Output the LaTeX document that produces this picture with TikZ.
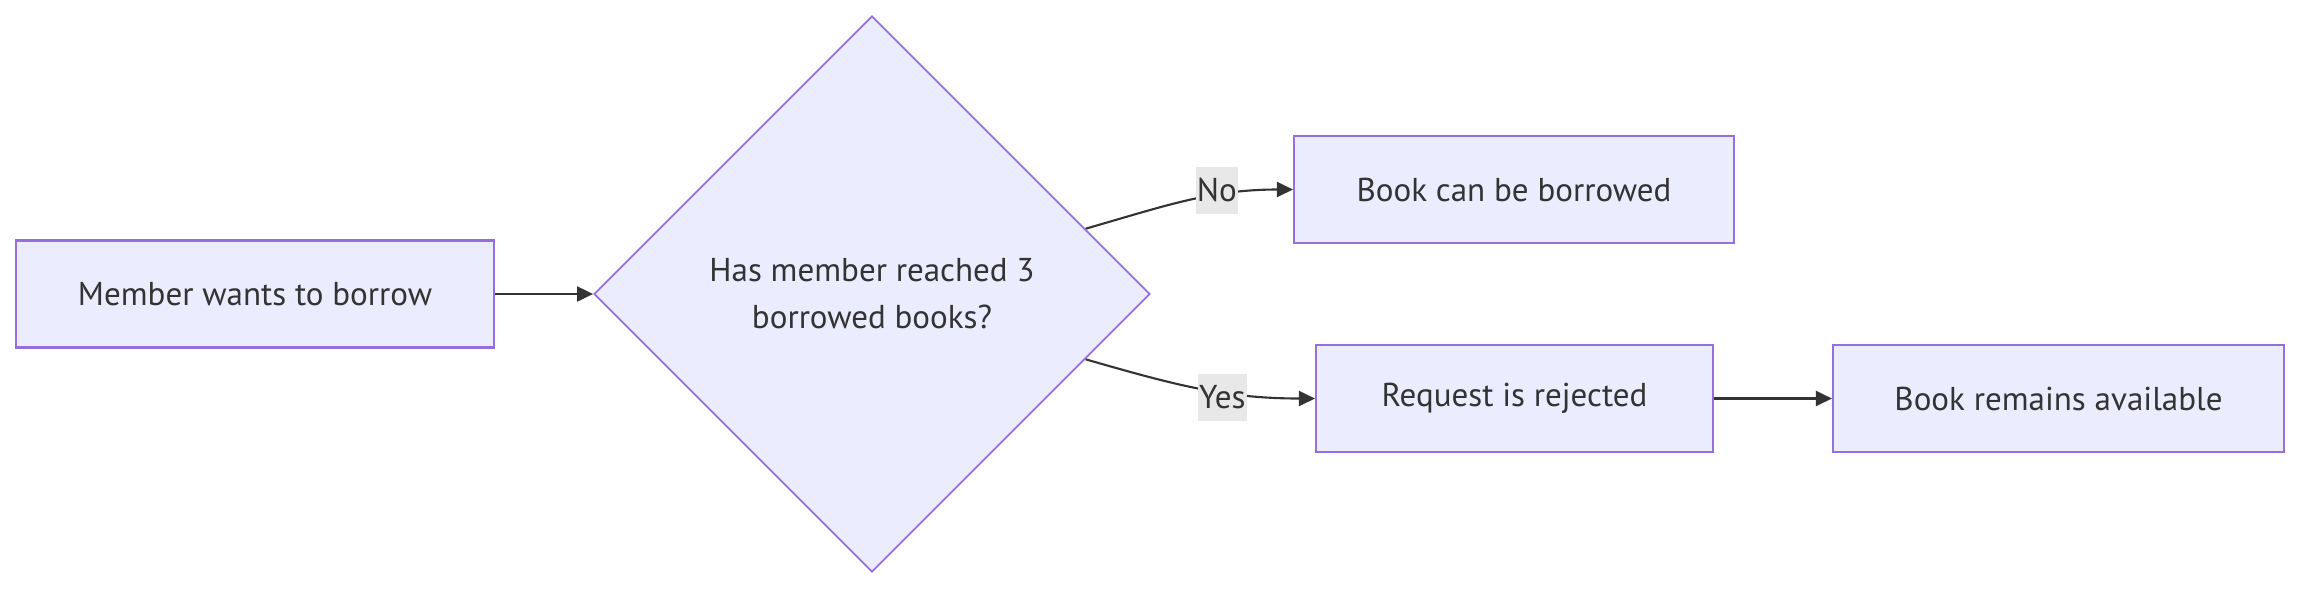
\documentclass[tikz,border=0pt]{standalone}
\usepackage{fontspec}
\setmainfont{PT Sans}
\usetikzlibrary{shapes.geometric, arrows.meta}
\definecolor{boxfill}{HTML}{ECECFF}
\definecolor{boxline}{HTML}{9370DB}
\definecolor{ink}{HTML}{333333}
\definecolor{lblfill}{HTML}{E8E8E8}

\tikzset{
    stepbox/.style={draw=boxline, fill=boxfill, line width=0.6pt, minimum height=1.07cm,
        text=ink, font=\fontsize{9.4}{13.4}\selectfont},
    choice/.style={diamond, draw=boxline, fill=boxfill, line width=0.5pt, aspect=1,
        minimum size=5.56cm, inner sep=0pt, text=ink, align=center,
        font=\fontsize{9.4}{13.4}\selectfont},
    edge/.style={draw=ink, line width=0.6pt, -{Triangle[length=0.16cm,width=0.15cm]}},
    edgelabel/.style={fill=lblfill, text=ink, inner xsep=0.4pt, inner ysep=1.5pt,
        minimum height=0.47cm, font=\fontsize{9.4}{13.4}\selectfont}
}

\begin{document}
\begin{tikzpicture}
    \useasboundingbox (0,0) rectangle (23,-5.88);

    % Steps
    \node[stepbox, minimum width=4.78cm] (want) at (2.55,-2.94) {Member wants to borrow};
    \node[choice] (limit) at (8.72,-2.94) {Has member reached 3\\borrowed books?};
    \node[stepbox, minimum width=4.40cm] (lend) at (15.14,-1.895) {Book can be borrowed};
    \node[stepbox, minimum width=3.97cm] (reject) at (15.145,-3.985) {Request is rejected};
    \node[stepbox, minimum width=4.51cm] (keep) at (20.585,-3.985) {Book remains available};

    % Connectors
    \draw[edge] (want) -- (limit);
    \draw[edge] (limit.17) to[out=16, in=180]
        node[edgelabel, pos=0.65, yshift=1.4pt] {No} (lend);
    \draw[edge] (limit.-17) to[out=-16, in=180]
        node[edgelabel, pos=0.61, yshift=-1.4pt] {Yes} (reject);
    \draw[edge] (reject) -- (keep);
\end{tikzpicture}
\end{document}
